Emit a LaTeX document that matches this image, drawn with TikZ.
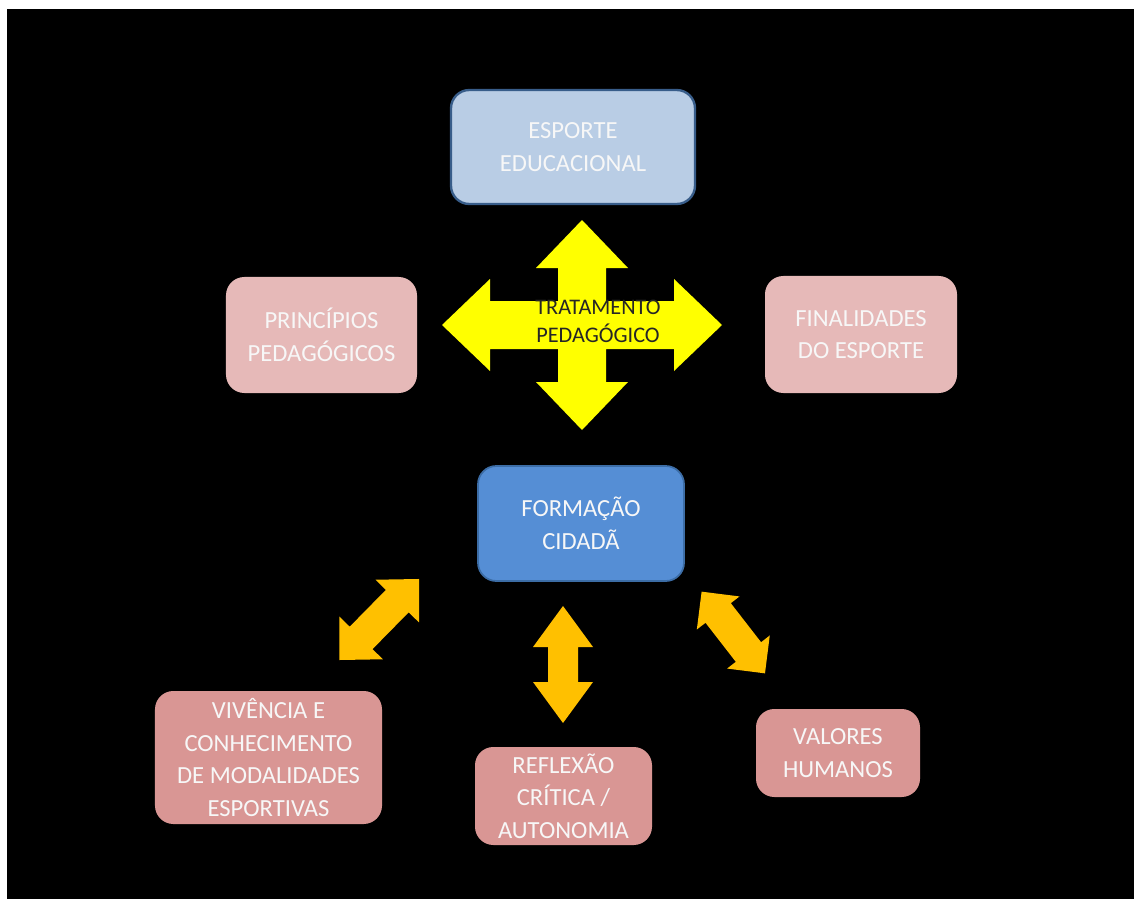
\documentclass[tikz,border=0pt]{standalone}
\usepackage{fontspec}
\setmainfont{Carlito}
\definecolor{esporteblue}{HTML}{B9CDE5}
\definecolor{esporteline}{HTML}{385D8A}
\definecolor{formblue}{HTML}{558ED5}
\definecolor{formline}{HTML}{3C6DA6}
\definecolor{pinktop}{HTML}{E6B9B8}
\definecolor{pinkbottom}{HTML}{D99694}
\definecolor{arrowyellow}{HTML}{FFFF00}
\definecolor{arroworange}{HTML}{FFC000}
\tikzset{
  box/.style={rounded corners=0.55cm, align=center, inner sep=0pt, text=white!97!black,
    font=\fontsize{21pt}{27.8pt}\selectfont},
  pinkbox/.style={box, fill=pinktop},
  rosebox/.style={box, fill=pinkbottom},
  bluebox/.style={box, fill=esporteblue, draw=esporteline, line width=2pt},
  formbox/.style={box, fill=formblue, draw=formline, line width=1.5pt},
  crosstext/.style={align=center, inner sep=0pt, text=black!85, font=\fontsize{19pt}{24pt}\selectfont}
}
% double block arrow: centre x, centre y, angle, half length, head length, head half width, shaft half width
\newcommand{\dblarrow}[7]{%
  \begin{scope}[shift={(#1,#2)},rotate=#3]
    \fill[arroworange] (#4,0) -- ({#4-#5},#6) -- ({#4-#5},#7) -- ({-#4+#5},#7) -- ({-#4+#5},#6)
      -- (-#4,0) -- ({-#4+#5},-#6) -- ({-#4+#5},-#7) -- ({#4-#5},-#7) -- ({#4-#5},-#6) -- cycle;
  \end{scope}}
\begin{document}
\begin{tikzpicture}[line cap=round,line join=round,x=0.03cm,y=-0.03cm]
\useasboundingbox (0,0) rectangle (1134,899);
\fill[white] (0,0) rectangle (1134,899);
\fill[black] (7,9) rectangle (1134,899);
% cross arrow
\fill[arrowyellow] (722,325) -- (674,371) -- (674,349) -- (606,349) -- (606,382) -- (628,382)
  -- (582,430) -- (536,382) -- (558,382) -- (558,349) -- (490,349) -- (490,371) -- (442,325)
  -- (490,279) -- (490,301) -- (558,301) -- (558,268) -- (536,268) -- (582,220) -- (628,268)
  -- (606,268) -- (606,301) -- (674,301) -- (674,279) -- cycle;
\node[crosstext] (trat) at (598,321) {TRATAMENTO\\PEDAGÓGICO};
% boxes
\node[bluebox, minimum width=7.32cm, minimum height=3.42cm] (esporte) at (573,147) {ESPORTE\\EDUCACIONAL};
\node[pinkbox, minimum width=5.73cm, minimum height=3.48cm] (principios) at (321.5,335) {PRINCÍPIOS\\PEDAGÓGICOS};
\node[pinkbox, minimum width=5.76cm, minimum height=3.51cm] (finalidades) at (861,334.5) {FINALIDADES\\DO ESPORTE};
\node[formbox, minimum width=6.18cm, minimum height=3.45cm] (formacao) at (581,523.5) {FORMAÇÃO\\CIDADÃ};
\node[rosebox, minimum width=6.81cm, minimum height=3.99cm] (vivencia) at (268.5,757.5) {VIVÊNCIA E\\CONHECIMENTO\\DE MODALIDADES\\ESPORTIVAS};
\node[rosebox, minimum width=5.31cm, minimum height=2.94cm] (reflexao) at (563.5,796) {REFLEXÃO\\CRÍTICA /\\AUTONOMIA};
\node[rosebox, minimum width=4.92cm, minimum height=2.64cm] (valores) at (838,753) {VALORES\\HUMANOS};
% small arrows
\dblarrow{379.2}{619.5}{45.5}{56.8}{31}{30.5}{16}
\dblarrow{563}{664.5}{90}{58.5}{41}{30}{15}
\dblarrow{733.3}{632.5}{-52.2}{51.7}{27}{27}{16}
\end{tikzpicture}
\end{document}
